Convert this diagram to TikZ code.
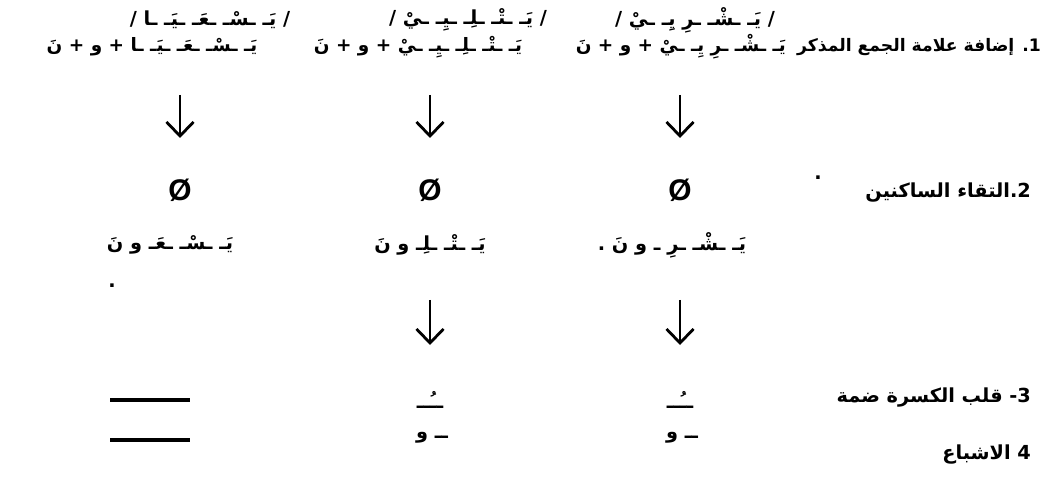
\documentclass[tikz,border=0pt]{standalone}
\usepackage{fontspec}
\setmainfont{Liberation Sans}
\newfontfamily\arabicfont[Script=Arabic]{DejaVu Sans}
\TeXXeTstate=1
\usetikzlibrary{arrows.meta}
\tikzset{
  arword/.style={font=\arabicfont\bfseries\fontsize{11}{13}\selectfont, inner sep=1pt},
  steplabel/.style={arword, anchor=east},
  zero/.style={font=\bfseries\fontsize{17}{19}\selectfont, inner sep=1pt},
  downarr/.style={line width=1.6pt, -{Straight Barb[length=2.8mm,width=5.4mm]}},
  rule/.style={line width=1.8pt}
}
\begin{document}
\begin{tikzpicture}[x=0.02cm,y=-0.02cm]
    \useasboundingbox (0,0) rectangle (1047,479);

    % Forme di partenza
    \node[arword] (topR) at (695,20) {\beginR/ يَـ ـشْـ ـرِ يِـ ـيْ /\endR};
    \node[arword] (topM) at (468,20) {\beginR/ يَـ ـتْـ ـلِـ ـيِـ ـيْ /\endR};
    \node[arword] (topL) at (210,20) {\beginR/ يَـ ـسْـ ـعَـ ـيَـ ـا /\endR};

    % Passo 1
    \node[steplabel, font=\arabicfont\bfseries\fontsize{9.8}{12}\selectfont] (lab1) at (1043,47) {\beginR 1. إضافة علامة الجمع المذكر\endR};
    \node[arword, anchor=east, font=\arabicfont\bfseries\fontsize{10.5}{12}\selectfont] (addR) at (788,47) {\beginR يَـ ـشْـ ـرِ يِـ ـيْ + و + نَ\endR};
    \node[arword, font=\arabicfont\bfseries\fontsize{10.5}{12}\selectfont] (addM) at (418,47) {\beginR يَـ ـتْـ ـلِـ ـيِـ ـيْ + و + نَ\endR};
    \node[arword, font=\arabicfont\bfseries\fontsize{10.5}{12}\selectfont] (addL) at (152,47) {\beginR يَـ ـسْـ ـعَـ ـيَـ ـا + و + نَ\endR};

    % Frecce verso lo zero
    \coordinate (tL) at (180,95);  \coordinate (hL) at (180,138);
    \coordinate (tM) at (430,95);  \coordinate (hM) at (430,138);
    \coordinate (tR) at (680,95);  \coordinate (hR) at (680,138);
    \draw[downarr] (tL) -- (hL);
    \draw[downarr] (tM) -- (hM);
    \draw[downarr] (tR) -- (hR);

    % Passo 2
    \node[zero] (phiL) at (180,190) {Ø};
    \node[zero] (phiM) at (430,190) {Ø};
    \node[zero] (phiR) at (680,190) {Ø};
    \node[arword] (dotA) at (818,178) {.};
    \node[steplabel] (lab2) at (1033,193) {\beginR 2.التقاء الساكنين\endR};

    % Risultato
    \node[arword] (resL) at (170,245) {\beginR يَـ ـسْـ ـعَـ و نَ\endR};
    \node[arword] (resM) at (430,245) {\beginR يَـ ـتْـ ـلِـ و نَ\endR};
    \node[arword] (resR) at (672,245) {\beginR يَـ ـشْـ ـرِ ـ و نَ .\endR};
    \node[arword] (dotB) at (112,286) {.};

    % Frecce verso il passo 3
    \coordinate (uM) at (430,300);  \coordinate (vM) at (430,345);
    \coordinate (uR) at (680,300);  \coordinate (vR) at (680,345);
    \draw[downarr] (uM) -- (vM);
    \draw[downarr] (uR) -- (vR);

    % Passo 3
    \coordinate (r3a) at (110,400);  \coordinate (r3b) at (190,400);
    \draw[rule] (r3a) -- (r3b);
    \node[arword] (dmM) at (430,400) {\beginR ــُــ\endR};
    \node[arword] (dmR) at (680,400) {\beginR ــُــ\endR};
    \node[steplabel] (lab3) at (1033,398) {\beginR 3- قلب الكسرة ضمة\endR};

    % Passo 4
    \coordinate (r4a) at (110,440);  \coordinate (r4b) at (190,440);
    \draw[rule] (r4a) -- (r4b);
    \node[arword] (waM) at (432,438) {\beginR ــ و\endR};
    \node[arword] (waR) at (682,438) {\beginR ــ و\endR};
    \node[steplabel] (lab4) at (1033,455) {\beginR 4 الاشباع\endR};
\end{tikzpicture}
\end{document}
